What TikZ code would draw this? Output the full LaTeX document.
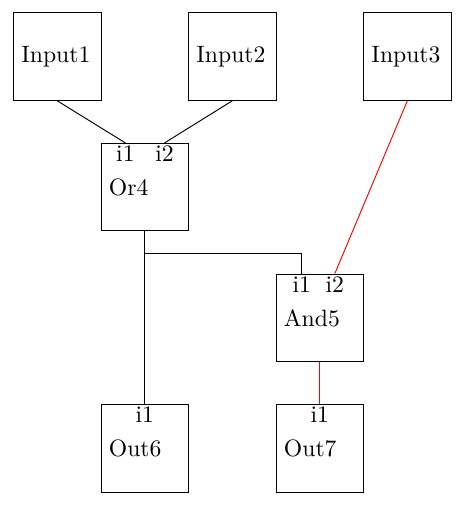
\documentclass[tikz,border=0pt]{standalone}
\usepackage{tikz}
\usetikzlibrary{positioning}
\tikzset{
  block/.style={rectangle, draw, minimum size=1.3cm, inner sep=0pt},
  blockname/.style={anchor=west},
  port/.style={anchor=north, inner sep=1pt},
}

\begin{document}
\begin{tikzpicture}
  \useasboundingbox (0,0) rectangle (6.88,-7.53);
  % blocks
  \node[block] (input1) at (0.85,-0.84) {};
  \node[block] (input2) at (3.45,-0.84) {};
  \node[block] (input3) at (6.05,-0.84) {};
  \node[block] (or4)    at (2.15,-2.78) {};
  \node[block] (and5)   at (4.75,-4.72) {};
  \node[block] (out6)   at (2.15,-6.66) {};
  \node[block] (out7)   at (4.75,-6.66) {};
  % names
  \node[blockname] at (input1.west) {Input1};
  \node[blockname] at (input2.west) {Input2};
  \node[blockname] at (input3.west) {Input3};
  \node[blockname] at (or4.west) {Or4};
  \node[blockname] at (and5.west) {And5};
  \node[blockname] at (out6.west) {Out6};
  \node[blockname] at (out7.west) {Out7};
  % ports
  \node[port] (or4-i1)  at ([xshift=0.37cm]or4.north west) {i1};
  \node[port] (or4-i2)  at ([xshift=0.95cm]or4.north west) {i2};
  \node[port] (and5-i1) at ([xshift=0.39cm]and5.north west) {i1};
  \node[port] (and5-i2) at ([xshift=0.88cm]and5.north west) {i2};
  \node[port] (out6-i1) at (out6.north) {i1};
  \node[port] (out7-i1) at (out7.north) {i1};
  \coordinate[below=0.33cm of or4.south] (or4-split);
  % wires
  \draw (input1.south) -- (or4-i1.north);
  \draw (input2.south) -- (or4-i2.north);
  \draw[red] (input3.south) -- (and5-i2.north);
  \draw (or4.south) -- (out6-i1.north);
  \draw (or4-split) -| (and5-i1.north);
  \draw[red] (and5.south) -- (out7-i1.north);
\end{tikzpicture}
\end{document}
